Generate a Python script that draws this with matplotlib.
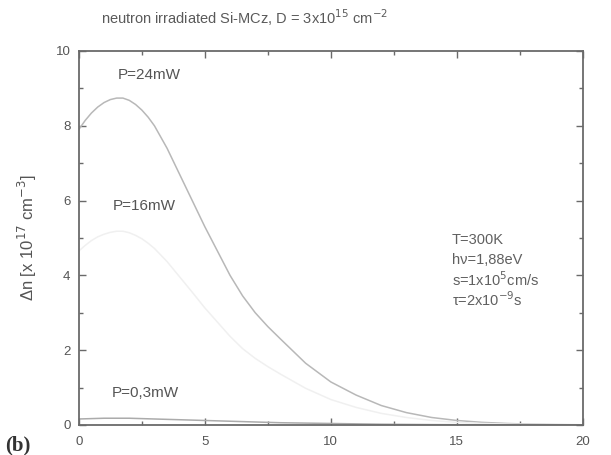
import matplotlib
matplotlib.use("Agg")
import matplotlib.pyplot as plt
from matplotlib.ticker import MultipleLocator

plt.rcParams['font.family'] = ['Liberation Sans', 'DejaVu Sans']

# depth [um] and excess carrier density [1e17 cm^-3] for three pump powers
x = [0, 0.25, 0.5, 0.75, 1.0, 1.25, 1.5, 1.75, 2.0, 2.25, 2.5, 2.75, 3.0,
     3.5, 4, 4.5, 5, 5.5, 6, 6.5, 7, 7.5, 8, 9, 10, 11, 12, 13, 14, 15,
     16, 17, 18, 19, 20]
dn_24mW = [7.9, 8.14, 8.34, 8.5, 8.62, 8.7, 8.74, 8.74, 8.68, 8.57, 8.42,
           8.23, 8.0, 7.4, 6.7, 6.0, 5.3, 4.65, 4.0, 3.45, 3.0, 2.63, 2.3,
           1.65, 1.15, 0.8, 0.52, 0.33, 0.2, 0.12, 0.07, 0.04, 0.02, 0.01,
           0.005]
dn_16mW = [4.65, 4.8, 4.93, 5.03, 5.1, 5.15, 5.18, 5.18, 5.14, 5.07, 4.98,
           4.86, 4.72, 4.37, 3.96, 3.55, 3.13, 2.75, 2.37, 2.04, 1.78, 1.56,
           1.36, 0.98, 0.68, 0.47, 0.31, 0.2, 0.12, 0.07, 0.04, 0.024,
           0.012, 0.006, 0.003]
dn_03mW = [0.16, 0.165, 0.17, 0.175, 0.18, 0.18, 0.18, 0.18, 0.18, 0.175,
           0.17, 0.165, 0.16, 0.15, 0.14, 0.13, 0.12, 0.11, 0.1, 0.09, 0.08,
           0.07, 0.06, 0.05, 0.04, 0.03, 0.02, 0.015, 0.01, 0.007, 0.005,
           0.003, 0.002, 0.001, 0.0]

curve_labels = ["P=24mW", "P=16mW", "P=0,3mW"]
label_pos = [(1.55, 9.35), (1.35, 5.85), (1.3, 0.85)]

params_lines = ["T=300K", "h\u03bd=1,88eV", "s=1x10$^{5}$cm/s",
                "\u03c4=2x10$^{-9}$s"]
params_y = [4.95, 4.42, 3.88, 3.35]

fig = plt.figure(figsize=(6.11, 4.55), dpi=100)
ax = fig.add_axes([0.129, 0.066, 0.825, 0.822])

ax.plot(x, dn_24mW, color='#b8b8b8', lw=1.1)
ax.plot(x, dn_16mW, color='#f0f0f0', lw=1.1)
ax.plot(x, dn_03mW, color='#ababab', lw=1.1)

ax.set_xlim(0, 20)
ax.set_ylim(0, 10)
ax.xaxis.set_major_locator(MultipleLocator(5))
ax.xaxis.set_minor_locator(MultipleLocator(2.5))
ax.yaxis.set_major_locator(MultipleLocator(2))
ax.yaxis.set_minor_locator(MultipleLocator(1))
ax.tick_params(which='both', direction='in', top=True, right=True,
               colors='#6a6a6a', labelcolor='#555555', labelsize=9.5)
ax.tick_params(axis='x', pad=8)
ax.tick_params(axis='y', pad=6)
ax.tick_params(which='major', length=5, width=1)
ax.tick_params(which='minor', length=3, width=1)
for s in ax.spines.values():
    s.set_color('#6a6a6a')
    s.set_linewidth(1.3)

for txt, (tx, ty) in zip(curve_labels, label_pos):
    ax.text(tx, ty, txt, fontsize=11, color='#555555', va='center')

for line, ly in zip(params_lines, params_y):
    ax.text(14.8, ly, line, fontsize=10.5, color='#606060', va='center')

ax.set_ylabel("\u0394n [x 10$^{17}$ cm$^{-3}$]", fontsize=12, color='#555555',
              labelpad=12)

fig.text(0.40, 0.962, "neutron irradiated Si-MCz, D = 3x10$^{15}$ cm$^{-2}$",
         fontsize=10.5, color='#5a5a5a', ha='center', va='center')
fig.text(0.008, 0.0, "(b)", fontsize=15, fontweight='bold',
         family='Liberation Serif', color='#333333', va='bottom')

fig.savefig("out.png", dpi=100, facecolor='white')
